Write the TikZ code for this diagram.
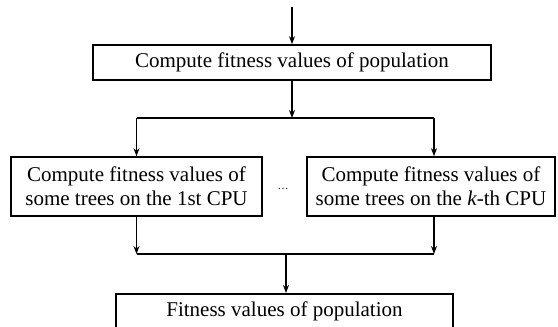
\documentclass[tikz,border=0pt]{standalone}
\usepackage{fontspec}
\setmainfont{Liberation Serif}
\usetikzlibrary{arrows.meta}
\begin{document}
\begin{tikzpicture}[x=1pt,y=-1pt,
  flowbox/.style={draw, line width=1.6pt, inner sep=0pt, align=center,
    font=\fontsize{21}{24}\selectfont},
  link/.style={line width=1.6pt},
  arr/.style={link, -{Stealth[length=8pt,width=6pt]}}]
  \clip (0,0) rectangle (558,327);
  \fill[white] (0,0) rectangle (558,327);

  % population-level step
  \coordinate (start) at (292,7);
  \node[flowbox, minimum width=398pt, minimum height=35pt] (top) at (292,62.5)
    {Compute fitness values of population};

  % split towards the CPUs
  \coordinate (split) at (292,118);
  \coordinate (splitL) at (136.5,118);
  \coordinate (splitR) at (434,118);

  % per-CPU steps
  \node[flowbox, minimum width=251pt, minimum height=59pt] (cpu1) at (136.5,186.5)
    {Compute fitness values of\\some trees on the 1st CPU};
  \node[flowbox, minimum width=248pt, minimum height=59pt] (cpuk) at (431,186.5)
    {Compute fitness values of\\some trees on the \textit{k}-th CPU};
  \node[font=\fontsize{11}{12}\selectfont, inner sep=0pt] (dots) at (283,189) {\dots};

  % merge of the results
  \coordinate (mergeL) at (136.5,254);
  \coordinate (mergeR) at (434,254);
  \coordinate (merge) at (286,254);
  \node[flowbox, minimum width=337pt, minimum height=36pt, anchor=north] (result) at (284.5,293)
    {Fitness values of population};

  % connectors
  \draw[arr] (start) -- (top.north);
  \draw[arr] (top.south) -- (split);
  \draw[link] (splitL) -- (splitR);
  \draw[arr] (splitL) -- (splitL |- cpu1.north);
  \draw[arr] (splitR) -- (splitR |- cpuk.north);
  \draw[arr] (splitL |- cpu1.south) -- (mergeL);
  \draw[arr] (splitR |- cpuk.south) -- (mergeR);
  \draw[link] (mergeL) -- (mergeR);
  \draw[arr] (merge) -- (merge |- result.north);
\end{tikzpicture}
\end{document}
